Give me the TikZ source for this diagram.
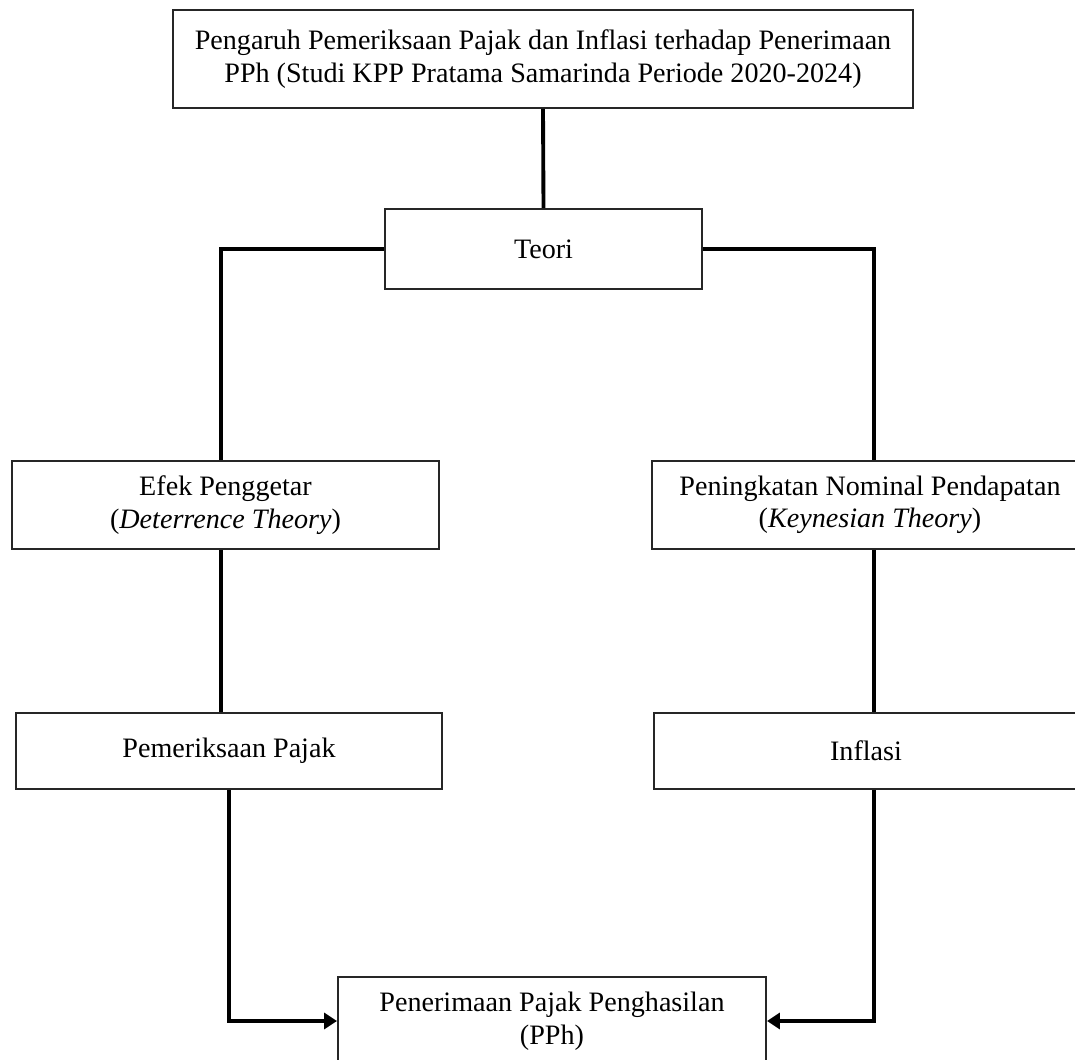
\documentclass[tikz,border=0pt]{standalone}
\usepackage{fontspec}
\setmainfont{Liberation Serif}
\usetikzlibrary{arrows.meta, positioning, calc}

\begin{document}
\begin{tikzpicture}[>={Triangle[length=2.6mm, width=3.2mm]},
  box/.style={draw=black!85, line width=1.1pt, align=center, inner sep=0pt,
    font=\fontsize{16}{18.5}\selectfont},
  link/.style={black, line width=2.2pt}]

% Background
\fill[white] (0,0) rectangle (21.5,21.18);
\useasboundingbox (0,0) rectangle (21.5,21.18);

% Title
\node[box, minimum width=14.8cm, minimum height=1.96cm] (judul) at (10.86,20.0)
  {Pengaruh Pemeriksaan Pajak dan Inflasi terhadap Penerimaan\\PPh (Studi KPP Pratama Samarinda Periode 2020-2024)};

% Theories
\node[box, minimum width=6.34cm, minimum height=1.6cm] (teori) at (10.87,16.2) {Teori};
\node[box, minimum width=8.54cm, minimum height=1.76cm] (efek) at (4.51,11.08)
  {Efek Penggetar\\(\textit{Deterrence Theory})};
\node[box, minimum width=8.72cm, minimum height=1.76cm] (nominal) at (17.4,11.08)
  {Peningkatan Nominal Pendapatan\\(\textit{Keynesian Theory})};

% Variables
\node[box, minimum width=8.52cm, minimum height=1.52cm] (periksa) at (4.58,6.16) {Pemeriksaan Pajak};
\node[box, minimum width=8.48cm, minimum height=1.52cm] (inflasi) at (17.32,6.16) {Inflasi};
\node[box, minimum width=8.56cm, minimum height=1.76cm] (pph) at (11.04,0.76)
  {Penerimaan Pajak Penghasilan\\(PPh)};

% Connectors
\draw[link] (judul.south) -- (teori.north);
\draw[link] (teori.west) -| ([xshift=-0.09cm]efek.north);
\draw[link] (teori.east) -| ([xshift=0.08cm]nominal.north);
\draw[link] ([xshift=-0.09cm]efek.south) -- ([xshift=-0.09cm]efek.south |- periksa.north);
\draw[link] ([xshift=0.08cm]nominal.south) -- ([xshift=0.08cm]nominal.south |- inflasi.north);
\draw[link, ->] (periksa.south) |- (pph.west);
\draw[link, ->] ([xshift=0.16cm]inflasi.south) |- (pph.east);

\end{tikzpicture}
\end{document}
